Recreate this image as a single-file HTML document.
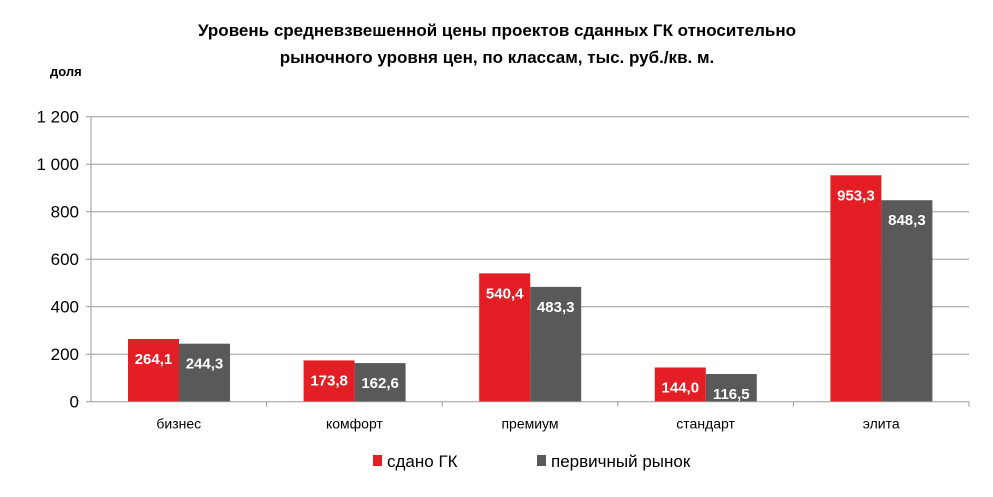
<!DOCTYPE html>
<html><head><meta charset="utf-8"><style>
body{margin:0;background:#fff;font-family:"Liberation Sans",Arial,sans-serif;}
svg text{font-family:"Liberation Sans",Arial,sans-serif;}
</style></head><body>
<svg width="993" height="492" viewBox="0 0 993 492">
<text x="497" y="36" text-anchor="middle" font-size="17" font-weight="bold">Уровень средневзвешенной цены проектов сданных ГК относительно</text>
<text x="497" y="63" text-anchor="middle" font-size="17" font-weight="bold">рыночного уровня цен, по классам, тыс.  руб./кв. м.</text>
<text x="50" y="76" font-size="13" font-weight="bold">доля</text>
<g id="grid"></g><g id="bars"></g><g id="axes"></g>
<g>
<rect x="373" y="455" width="9" height="11" fill="#e31e24"/>
<text x="387" y="467" font-size="17">сдано ГК</text>
<rect x="537" y="455" width="9" height="11" fill="#595959"/>
<text x="551" y="467" font-size="17">первичный  рынок</text>
</g>
</svg>
<script>
const categories=["бизнес","комфорт","премиум","стандарт","элита"];
const sdano=[264.1,173.8,540.4,144.0,116.5===0?0:953.3];
const primary=[244.3,162.6,483.3,116.5,848.3];
const ticks=[0,200,400,600,800,1000,1200];
const tickLabels=["0","200","400","600","800","1 000","1 200"];
const NS="http://www.w3.org/2000/svg";
const x0=91,x1=969,y0=401.7,yTop=116.7,maxV=1200;
const cw=(x1-x0)/categories.length;
const y=v=>y0-(v/maxV)*(y0-yTop);
function el(t,a,p){const e=document.createElementNS(NS,t);for(const k in a)e.setAttribute(k,a[k]);p.appendChild(e);return e;}
const grid=document.getElementById('grid'),bars=document.getElementById('bars'),axes=document.getElementById('axes');
ticks.forEach((t,i)=>{
 if(t>0){const g=el('line',{x1:x0,x2:x1,y1:y(t),y2:y(t),stroke:'#9a9a9a','stroke-width':1},grid);
 
 }
 const tk=el('line',{x1:x0-5,x2:x0,y1:y(t),y2:y(t),stroke:'#9a9a9a'},axes);
 
 
 const tl=el('text',{x:x0-12,y:y(t)+6,'text-anchor':'end','font-size':17,fill:'#000'},axes);
 tl.textContent=tickLabels[i];
 
 
});
const ya=el('line',{x1:x0,x2:x0,y1:yTop,y2:y0,stroke:'#9a9a9a'},axes);


const xa=el('line',{x1:x0,x2:x1,y1:y0,y2:y0,stroke:'#9a9a9a'},axes);


const bw=51;
categories.forEach((c,i)=>{
 const cx=x0+cw*i;
 const tk=el('line',{x1:cx+cw,x2:cx+cw,y1:y0,y2:y0+5,stroke:'#9a9a9a'},axes);
 
 
 const lab=el('text',{x:cx+cw/2,y:y0+27,'text-anchor':'middle','font-size':14},axes);
 lab.textContent=c;
 
 
 [[sdano[i],'#e31e24',cx+37,'sdano'],[primary[i],'#595959',cx+37+bw,'primary']].forEach(([v,col,bx,s])=>{
  const r=el('rect',{x:bx,y:y(v),width:bw,height:y0-y(v),fill:col},bars);
  
  
  const t=el('text',{x:bx+bw/2,y:y(v)+25,'text-anchor':'middle','font-size':15,'font-weight':'bold',fill:'#fff'},bars);
  t.textContent=v.toFixed(1).replace('.',',');
  
  
 });
});
</script>
</body></html>
